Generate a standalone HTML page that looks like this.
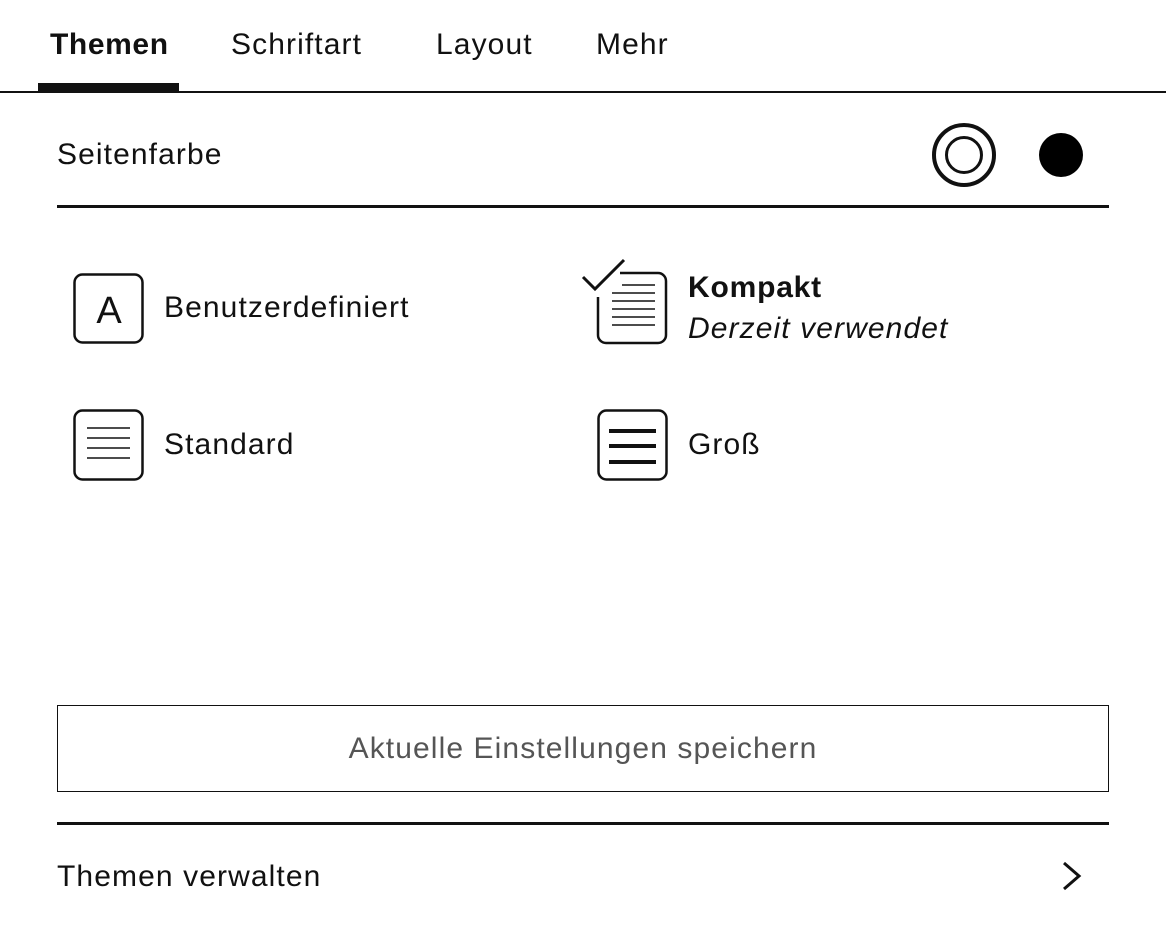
<!DOCTYPE html>
<html><head><style>
body{margin:0;width:1166px;height:928px;background:#fff;font-family:"Liberation Sans",sans-serif;color:#111;position:relative;overflow:hidden}
.t{position:absolute;font-size:30px;line-height:1;white-space:nowrap;letter-spacing:1.1px}
.hl{position:absolute;background:#111}
</style></head><body>
<div class="t" style="left:50px;top:30px;font-weight:bold;letter-spacing:0.6px">Themen</div>
<div class="t" style="left:231px;top:30px">Schriftart</div>
<div class="t" style="left:436px;top:30px">Layout</div>
<div class="t" style="left:596px;top:30px">Mehr</div>
<div class="hl" style="left:38px;top:83px;width:141px;height:9px"></div>
<div class="hl" style="left:0;top:91px;width:1166px;height:2px"></div>

<div class="t" style="left:57px;top:140px">Seitenfarbe</div>
<div style="position:absolute;left:932px;top:123px;width:64px;height:64px;border:4px solid #111;border-radius:50%;box-sizing:border-box"></div>
<div style="position:absolute;left:945px;top:136px;width:38px;height:38px;border:3px solid #111;border-radius:50%;box-sizing:border-box"></div>
<div style="position:absolute;left:1039px;top:133px;width:44px;height:44px;background:#000;border-radius:50%"></div>
<div class="hl" style="left:57px;top:205px;width:1052px;height:2.5px"></div>

<svg style="position:absolute;left:72px;top:272px" width="76" height="76">
<rect x="2.5" y="2.5" width="68" height="68" rx="8" fill="none" stroke="#111" stroke-width="2.5"/>
</svg>
<div class="t" style="left:74px;top:292px;width:70px;text-align:center;font-size:38px;letter-spacing:0">A</div>
<div class="t" style="left:164px;top:293px">Benutzerdefiniert</div>

<svg style="position:absolute;left:580px;top:255px" width="92" height="95">
<path d="M40 18 H78 a8 8 0 0 1 8 8 V80 a8 8 0 0 1 -8 8 H26 a8 8 0 0 1 -8 -8 V42" fill="none" stroke="#111" stroke-width="2.5"/>
<path d="M3 22 L15 34 L44 5" fill="none" stroke="#111" stroke-width="3"/>
<g stroke="#111" stroke-width="1.6"><line x1="42" y1="30" x2="75" y2="30"/><line x1="32" y1="38" x2="75" y2="38"/><line x1="32" y1="46" x2="75" y2="46"/><line x1="32" y1="54" x2="75" y2="54"/><line x1="32" y1="62" x2="75" y2="62"/><line x1="32" y1="70" x2="75" y2="70"/></g>
</svg>
<div class="t" style="left:688px;top:273px;font-weight:bold;letter-spacing:0.8px">Kompakt</div>
<div class="t" style="left:688px;top:314px;font-style:italic">Derzeit verwendet</div>

<svg style="position:absolute;left:72px;top:408px" width="76" height="76">
<rect x="2.5" y="2.5" width="68" height="69" rx="8" fill="none" stroke="#111" stroke-width="2.5"/>
<g stroke="#111" stroke-width="1.6"><line x1="15" y1="20" x2="58" y2="20"/><line x1="15" y1="30" x2="58" y2="30"/><line x1="15" y1="40" x2="58" y2="40"/><line x1="15" y1="50" x2="58" y2="50"/></g>
</svg>
<div class="t" style="left:164px;top:430px">Standard</div>

<svg style="position:absolute;left:596px;top:408px" width="76" height="76">
<rect x="2.5" y="2.5" width="68" height="69" rx="8" fill="none" stroke="#111" stroke-width="2.5"/>
<g stroke="#111" stroke-width="4"><line x1="13" y1="23" x2="60" y2="23"/><line x1="13" y1="38" x2="60" y2="38"/><line x1="13" y1="54" x2="60" y2="54"/></g>
</svg>
<div class="t" style="left:688px;top:430px">Groß</div>

<div style="position:absolute;left:57px;top:705px;width:1052px;height:87px;border:1.5px solid #111;box-sizing:border-box"></div>
<div class="t" style="left:57px;top:734px;width:1052px;text-align:center;color:#555">Aktuelle Einstellungen speichern</div>
<div class="hl" style="left:57px;top:822px;width:1052px;height:2.5px"></div>
<div class="t" style="left:57px;top:862px">Themen verwalten</div>
<svg style="position:absolute;left:1060px;top:860px" width="26" height="32"><path d="M4 3 L19 16 L4 29" fill="none" stroke="#111" stroke-width="3"/></svg>
</body></html>
